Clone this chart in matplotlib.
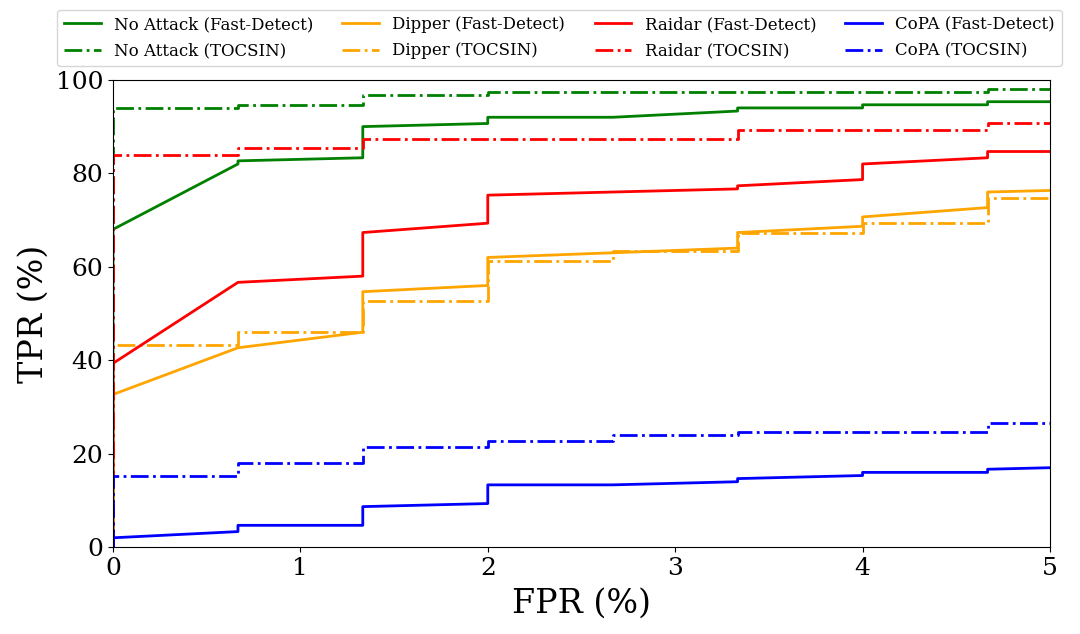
import matplotlib
matplotlib.use('Agg')
import matplotlib.pyplot as plt

plt.rcParams['font.family'] = 'DejaVu Serif'

#data (percent)
noattack_fd_fpr = [0, 0, 0.667, 0.667, 1.333, 1.333, 2.0, 2.0, 2.667, 3.333, 3.333, 4.0, 4.0, 4.667, 4.667, 5.333]
noattack_fd_tpr = [0, 68.0, 82.0, 82.67, 83.33, 90.0, 90.67, 92.0, 92.0, 93.33, 94.0, 94.0, 94.67, 94.67, 95.33, 95.33]
noattack_to_fpr = [0, 0, 0.667, 0.667, 1.333, 1.333, 2.0, 2.0, 4.667, 4.667, 5.333]
noattack_to_tpr = [0, 94.0, 94.0, 94.67, 94.67, 96.67, 96.67, 97.33, 97.33, 98.0, 98.0]

dipper_fd_fpr = [0, 0, 0.667, 1.333, 1.333, 2.0, 2.0, 3.333, 3.333, 4.0, 4.0, 4.667, 4.667, 5.333]
dipper_fd_tpr = [0, 32.67, 42.67, 46.0, 54.67, 56.0, 62.0, 64.0, 67.33, 68.67, 70.67, 72.67, 76.0, 76.67]
dipper_to_fpr = [0, 0, 0.667, 0.667, 1.333, 1.333, 2.0, 2.0, 2.667, 2.667, 3.333, 3.333, 4.0, 4.0, 4.667, 4.667, 5.333]
dipper_to_tpr = [0, 43.33, 43.33, 46.0, 46.0, 52.67, 52.67, 61.33, 61.33, 63.33, 63.33, 67.33, 67.33, 69.33, 69.33, 74.67, 74.67]

raidar_fd_fpr = [0, 0, 0.667, 1.333, 1.333, 2.0, 2.0, 3.333, 3.333, 4.0, 4.0, 4.667, 4.667, 5.333]
raidar_fd_tpr = [0, 39.33, 56.67, 58.0, 67.33, 69.33, 75.33, 76.67, 77.33, 78.67, 82.0, 83.33, 84.67, 84.67]
raidar_to_fpr = [0, 0, 0.667, 0.667, 1.333, 1.333, 3.333, 3.333, 4.667, 4.667, 5.333]
raidar_to_tpr = [0, 84.0, 84.0, 85.33, 85.33, 87.33, 87.33, 89.33, 89.33, 90.67, 90.67]

copa_fd_fpr = [0, 0, 0.667, 0.667, 1.333, 1.333, 2.0, 2.0, 2.667, 3.333, 3.333, 4.0, 4.0, 4.667, 4.667, 5.333]
copa_fd_tpr = [0, 2.0, 3.33, 4.67, 4.67, 8.67, 9.33, 13.33, 13.33, 14.0, 14.67, 15.33, 16.0, 16.0, 16.67, 17.33]
copa_to_fpr = [0, 0, 0.667, 0.667, 1.333, 1.333, 2.0, 2.0, 2.667, 2.667, 3.333, 3.333, 4.667, 4.667, 5.333]
copa_to_tpr = [0, 15.33, 15.33, 18.0, 18.0, 21.33, 21.33, 22.67, 22.67, 24.0, 24.0, 24.67, 24.67, 26.67, 26.67]

#plot
fig = plt.figure(figsize=(10.8, 6.34), dpi=100)
ax = fig.add_axes([0.1046, 0.137, 0.8676, 0.737])

lw = 2
ax.plot(noattack_fd_fpr, noattack_fd_tpr, color='green', lw=lw, label='No Attack (Fast-Detect)')
ax.plot(noattack_to_fpr, noattack_to_tpr, color='green', lw=lw, ls='-.', label='No Attack (TOCSIN)')
ax.plot(dipper_fd_fpr, dipper_fd_tpr, color='orange', lw=lw, label='Dipper (Fast-Detect)')
ax.plot(dipper_to_fpr, dipper_to_tpr, color='orange', lw=lw, ls='-.', label='Dipper (TOCSIN)')
ax.plot(raidar_fd_fpr, raidar_fd_tpr, color='red', lw=lw, label='Raidar (Fast-Detect)')
ax.plot(raidar_to_fpr, raidar_to_tpr, color='red', lw=lw, ls='-.', label='Raidar (TOCSIN)')
ax.plot(copa_fd_fpr, copa_fd_tpr, color='blue', lw=lw, label='CoPA (Fast-Detect)')
ax.plot(copa_to_fpr, copa_to_tpr, color='blue', lw=lw, ls='-.', label='CoPA (TOCSIN)')

ax.set_xlim(0, 5)
ax.set_ylim(0, 100)
ax.set_xticks([0, 1, 2, 3, 4, 5])
ax.set_yticks([0, 20, 40, 60, 80, 100])
ax.tick_params(labelsize=18)
ax.set_xlabel('FPR (%)', fontsize=24, labelpad=6)
ax.set_ylabel('TPR (%)', fontsize=24, labelpad=4)

fig.legend(loc='upper center', bbox_to_anchor=(0.518, 0.985), ncol=4, fontsize=12,
           columnspacing=1.75, handlelength=2.2, borderaxespad=0.0, labelspacing=0.55)

fig.savefig('out.png', dpi=100)
